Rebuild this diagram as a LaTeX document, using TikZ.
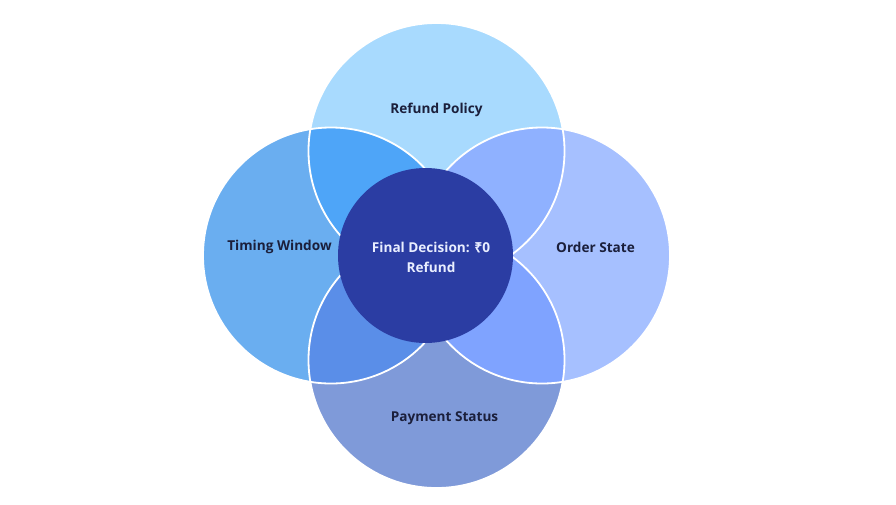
\documentclass[tikz,border=0pt]{standalone}
\usepackage{fontspec}
\setmainfont{Open Sans}
\newfontfamily\rupfont{Noto Sans}[FakeBold=3]
\definecolor{polc}{HTML}{A8DAFE}
\definecolor{timc}{HTML}{6AAEF0}
\definecolor{ordc}{HTML}{A6C0FF}
\definecolor{payc}{HTML}{7F9AD9}
\definecolor{ptc}{HTML}{4EA5F8}
\definecolor{poc}{HTML}{8FB1FF}
\definecolor{tpc}{HTML}{5A8EE8}
\definecolor{opc}{HTML}{7FA3FF}
\definecolor{finc}{HTML}{2B3DA3}
\definecolor{ink}{HTML}{1B1F3B}
\definecolor{pale}{HTML}{E9EEFF}
\begin{document}
\begin{tikzpicture}[x=1pt, y=-1pt,
    every node/.style={font=\bfseries\fontsize{13.6}{20}\selectfont},
    big/.style={circle, minimum size=256pt, inner sep=0pt},
    rim/.style={draw=white, line width=1.8pt},
    lbl/.style={text=ink, inner sep=1pt},
  ]
  \useasboundingbox (0,0) rectangle (896,504);
  % the four sets
  \node[big, fill=polc] (pol) at (436.5,151) {};
  \node[big, fill=timc] (tim) at (331,255.5) {};
  \node[big, fill=ordc] (ord) at (542,255.5) {};
  \node[big, fill=payc] (pay) at (436.5,360) {};
  % overlaps
  \begin{scope}
    \clip (pol.center) circle[radius=128];
    \fill[ptc] (tim.center) circle[radius=128];
    \fill[poc] (ord.center) circle[radius=128];
  \end{scope}
  \begin{scope}
    \clip (pay.center) circle[radius=128];
    \fill[tpc] (tim.center) circle[radius=128];
    \fill[opc] (ord.center) circle[radius=128];
  \end{scope}
  \foreach \c in {pol,tim,ord,pay}
    \draw[rim] (\c.center) circle[radius=128];
  % centre
  \node[circle, minimum size=175pt, inner sep=0pt, fill=finc] (fin) at (425.5,255.5) {};
  \node[lbl] (polt) at (436.5,110) {Refund Policy};
  \node[lbl] (timt) at (279.5,247) {Timing Window};
  \node[lbl] (ordt) at (595.5,247) {Order State};
  \node[lbl] (payt) at (444.5,418) {Payment Status};
  \node[text=pale, align=center] (fint) at (431,257) {Final Decision: {\rupfont ₹}0\\Refund};
\end{tikzpicture}
\end{document}
